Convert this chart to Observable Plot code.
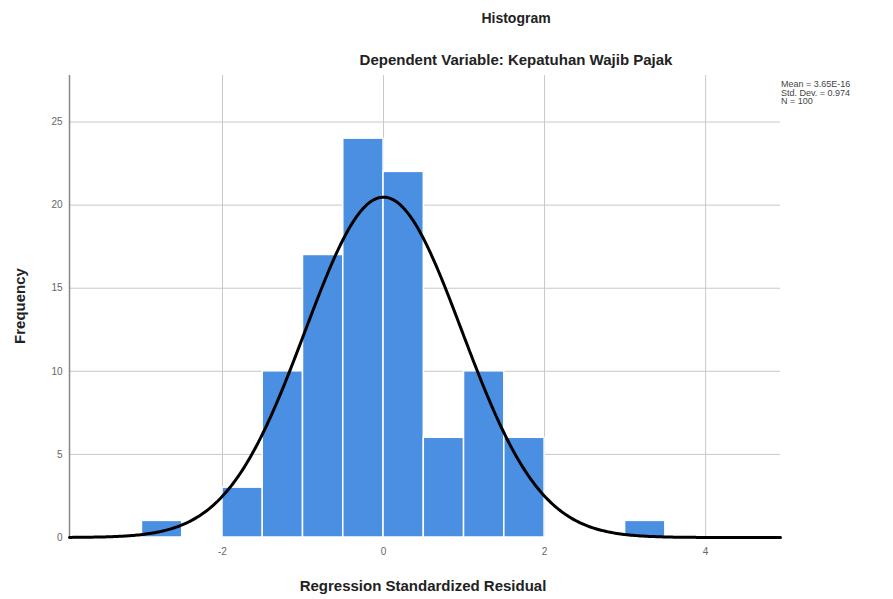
<!DOCTYPE html>
<html>
<head>
<meta charset="utf-8">
<script src="https://cdn.jsdelivr.net/npm/d3@7"></script>
<script src="https://cdn.jsdelivr.net/npm/@observablehq/plot@0.6"></script>
<style>
  html, body { margin: 0; padding: 0; background: #fff; }
  #chart { width: 893px; height: 599px; }
</style>
</head>
<body>
<div id="chart"></div>
<script>
// Histogram bins (bin width 0.5)
const binStart = [-3.0, -2.0, -1.5, -1.0, -0.5, 0.0, 0.5, 1.0, 1.5, 3.0];
const binEnd   = [-2.5, -1.5, -1.0, -0.5, 0.0, 0.5, 1.0, 1.5, 2.0, 3.5];
const counts   = [1, 3, 10, 17, 24, 22, 6, 10, 6, 1];

// Stated summary statistics (legend)
const statLabels = ["Mean = 3.65E-16", "Std. Dev. = 0.974", "N = 100"];
const meanVal = 3.65e-16;
const sdVal = 0.974;
const nVal = 100;
const binWidth = 0.5;

const xTicks = [-2, 0, 2, 4];
const yTicks = [0, 5, 10, 15, 20, 25];

const bars = counts.map((c, i) => ({x1: binStart[i], x2: binEnd[i], y: c}));

// Fitted normal curve defined by the stated mean, SD and N
const xDomain = [-3.9, 4.93];
const curve = d3.range(0, 401).map(i => {
  const x = xDomain[0] + (xDomain[1] - xDomain[0]) * i / 400;
  const z = (x - meanVal) / sdVal;
  return {x, y: nVal * binWidth * Math.exp(-0.5 * z * z) / (sdVal * Math.sqrt(2 * Math.PI))};
});

const plot = Plot.plot({
  width: 893,
  height: 599,
  marginLeft: 69,
  marginRight: 113,
  marginTop: 75,
  marginBottom: 62,
  style: {fontFamily: "'Liberation Sans', Arial, sans-serif", background: "#fff"},
  x: {domain: xDomain, label: null},
  y: {domain: [0, 27.8], label: null},
  marks: [
    Plot.gridY(yTicks.filter(d => d > 0), {stroke: "#c8c8c8", strokeOpacity: 1, strokeWidth: 1}),
    Plot.gridX(xTicks, {stroke: "#c8c8c8", strokeOpacity: 1, strokeWidth: 1}),
    Plot.rectY(bars, {x1: "x1", x2: "x2", y: "y", fill: "#4a8fe2", stroke: "#ffffff", strokeWidth: 1.5}),
    Plot.ruleX([xDomain[0]], {stroke: "#888", strokeWidth: 1.5}),
    Plot.line(curve, {x: "x", y: "y", stroke: "#000", strokeWidth: 3, curve: "linear"}),
    Plot.axisY(yTicks, {tickSize: 0, tickPadding: 7, fontSize: 10, fill: "#666", anchor: "left", label: null}),
    Plot.axisX(xTicks, {tickSize: 0, tickPadding: 10, fontSize: 10, fill: "#666", anchor: "bottom", label: null,
      tickFormat: d => d < 0 ? "-" + Math.abs(d) : String(d)})
  ]
});

document.getElementById("chart").appendChild(plot);

const svg = d3.select(plot);
const addText = (txt, x, y, opts = {}) => {
  const t = svg.append("text")
    .attr("x", x).attr("y", y)
    .attr("text-anchor", opts.anchor || "middle")
    .attr("font-family", "'Liberation Sans', Arial, sans-serif")
    .attr("font-size", opts.size || 15)
    .attr("font-weight", opts.weight || "bold")
    .attr("fill", opts.fill || "#222")
    .text(txt);
  if (opts.rotate) t.attr("transform", `rotate(-90, ${x}, ${y})`);
  return t;
};
addText("Histogram", 516, 23, {size: 14});
addText("Dependent Variable: Kepatuhan Wajib Pajak", 516, 65, {size: 15});
addText("Frequency", 25, 306, {size: 15, rotate: true});
addText("Regression Standardized Residual", 423, 591, {size: 15});
statLabels.forEach((s, i) => addText(s, 781, 87 + i * 8.5, {size: 9, weight: "normal", anchor: "start", fill: "#444"}));
</script>
</body>
</html>
